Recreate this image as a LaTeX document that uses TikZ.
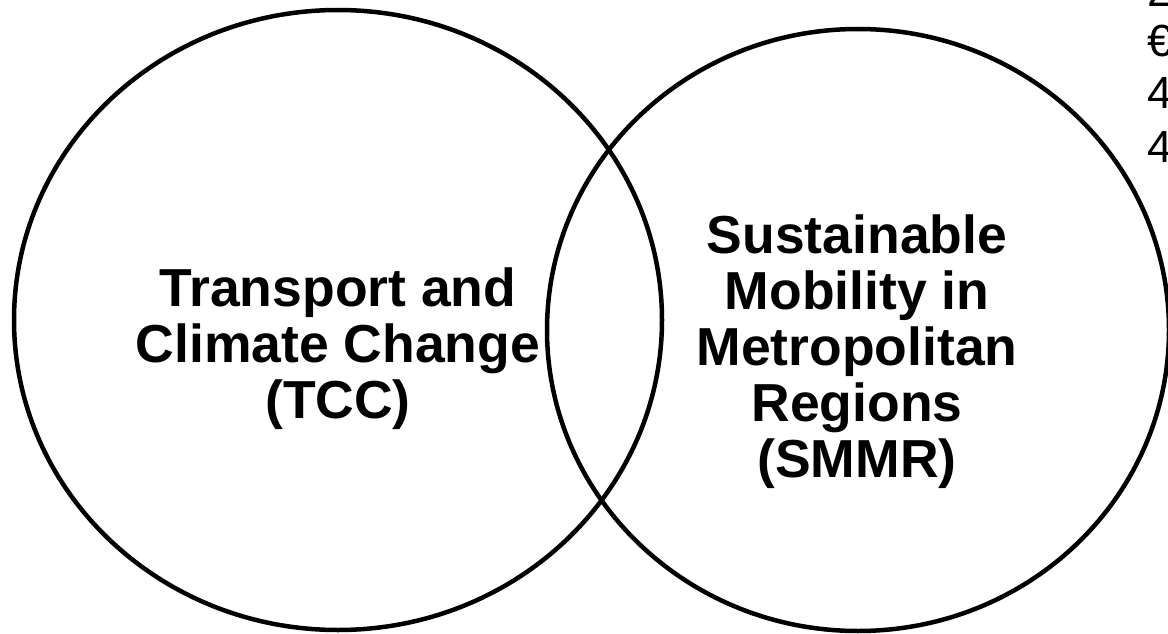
\documentclass[tikz,border=0pt]{standalone}
\usepackage{fontspec}
\setmainfont{Liberation Sans}
\usetikzlibrary{shapes.geometric}
\tikzset{
	every set/.style={
		ellipse,
		draw,
		line width=4.5pt,
		inner sep=0pt
	},
	set label/.style={
		align=center,
		font=\bfseries\fontsize{53.5}{56}\selectfont
	},
	edge text/.style={
		anchor=base west,
		inner sep=0pt,
		font=\fontsize{45}{50}\selectfont
	},
}
\begin{document}
\begin{tikzpicture}[x=1pt, y=-1pt]

\useasboundingbox (0,0) rectangle (1168,634);
\clip (0,0) rectangle (1168,634);

\node [every set, minimum width=648pt, minimum height=620pt] (tcc) at (338,320) {};
\node [every set, minimum width=622pt, minimum height=602pt] (smmr) at (858,330) {};

\node [set label] (tcc-text) at (338,349) {Transport and\\Climate Change\\(TCC)};
\node [set label] (smmr-text) at (857,352) {Sustainable\\Mobility in\\Metropolitan\\Regions\\(SMMR)};

\foreach \t/\y [count=\i] in {2/7, €/57, 4/108, 4/162}
	\node [edge text] (edge-\i) at (1147,\y) {\t};

\end{tikzpicture}
\end{document}
